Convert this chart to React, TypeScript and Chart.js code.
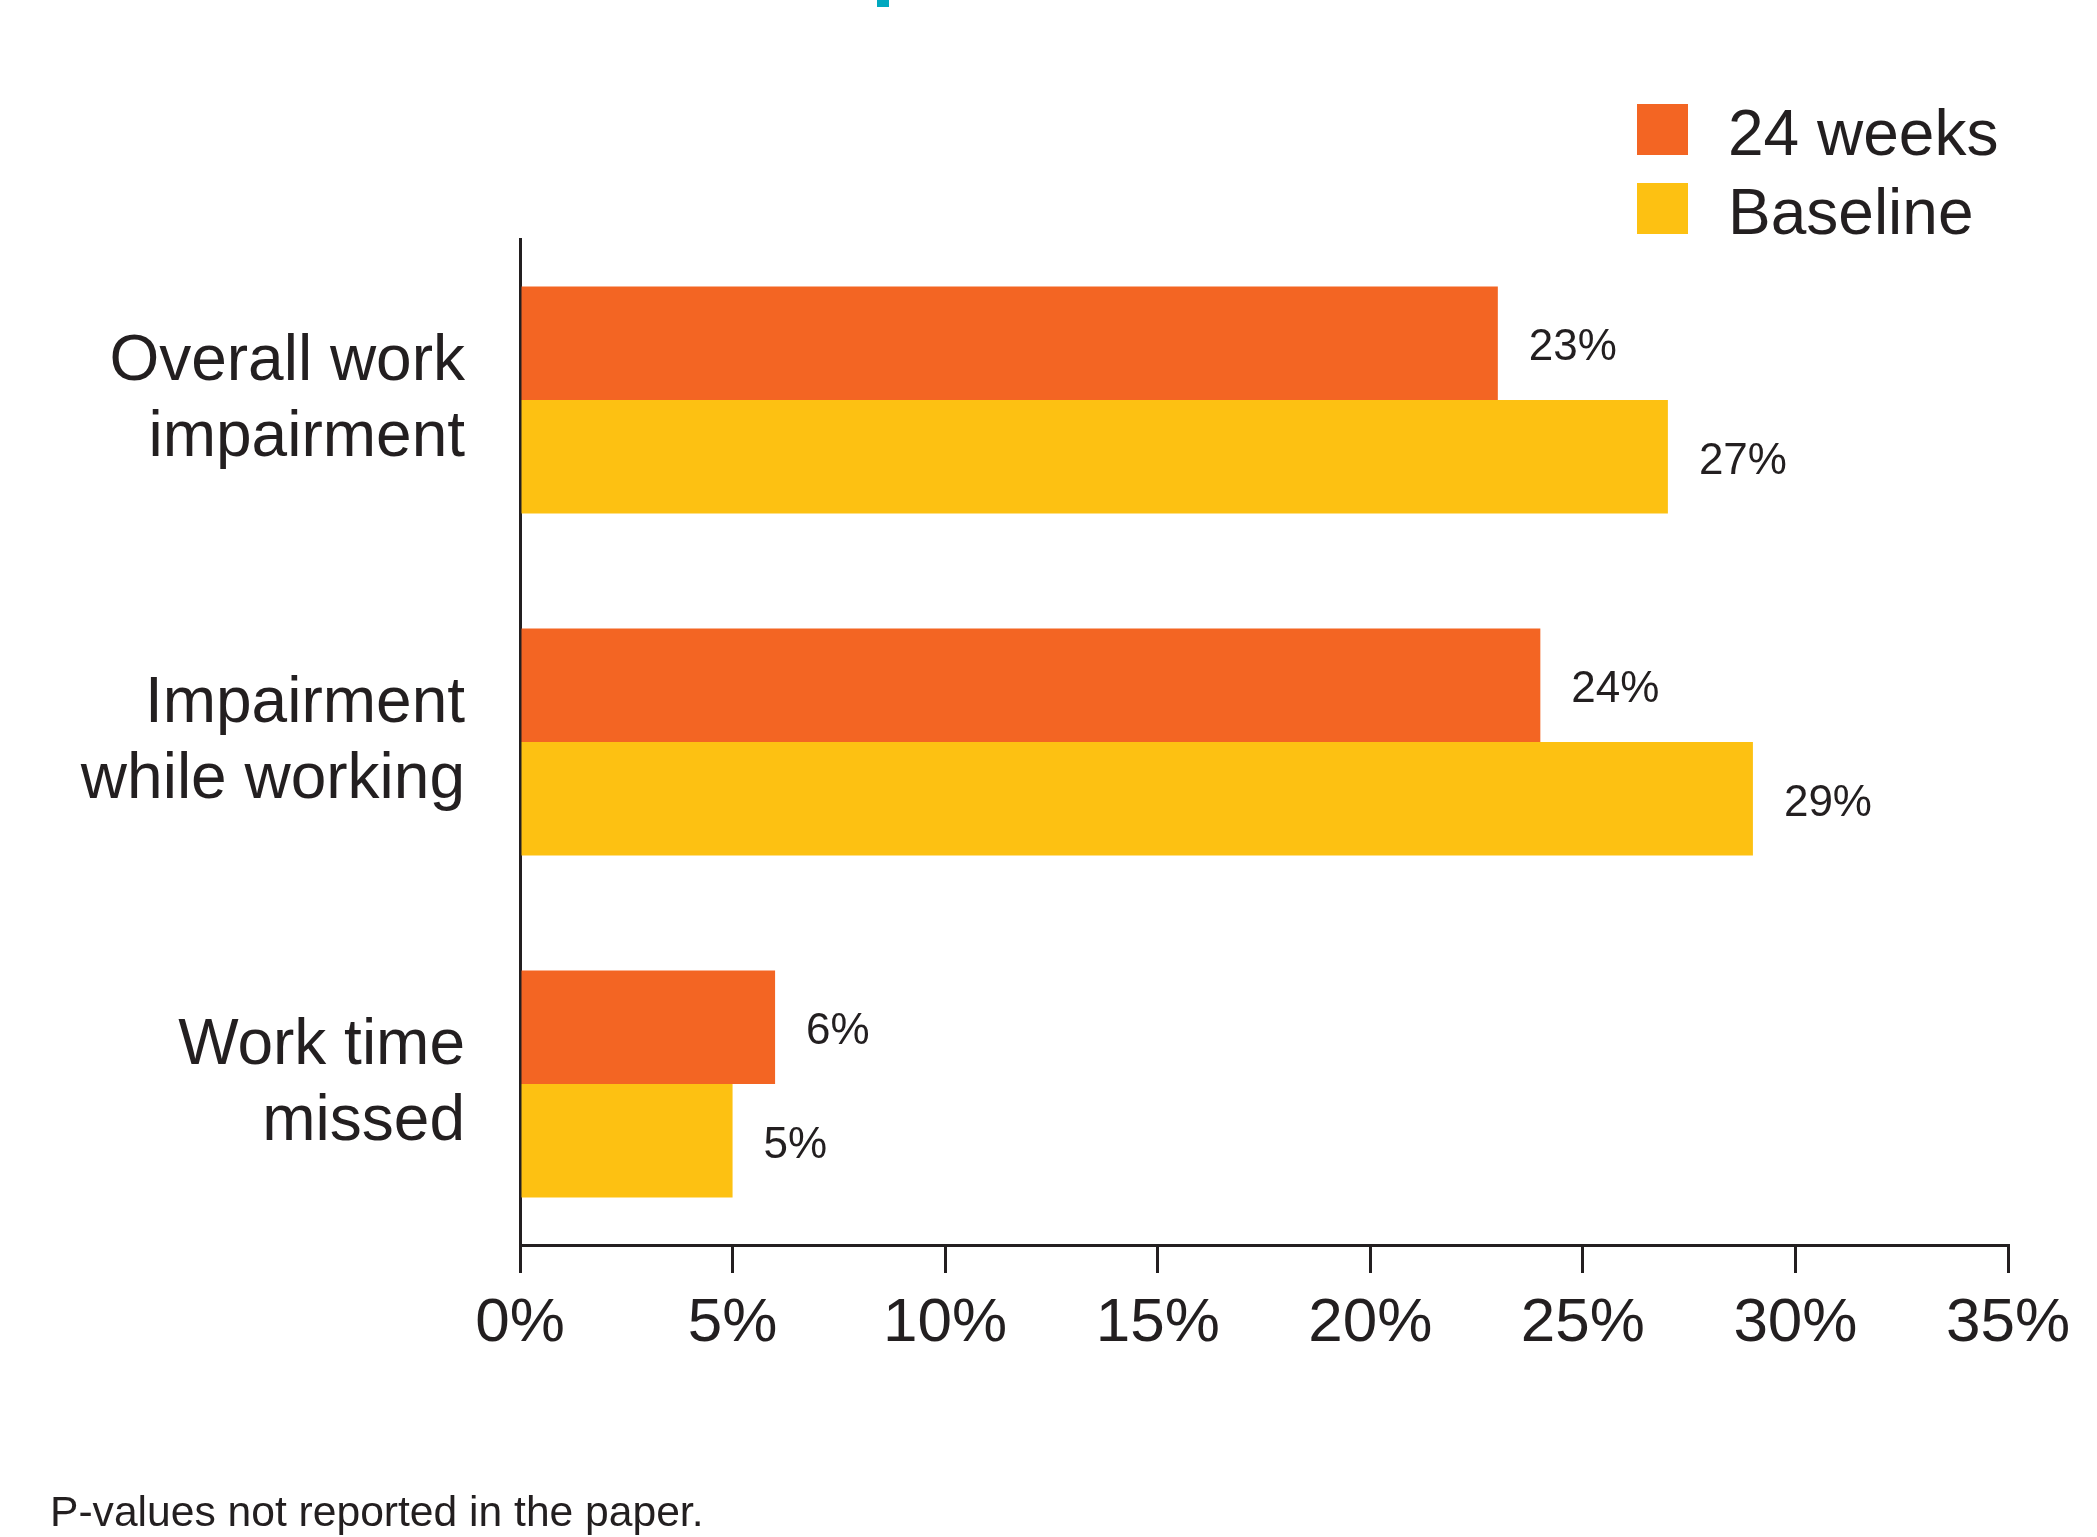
import React, { useEffect, useRef } from "react";
import { Chart, registerables } from "chart.js";

Chart.register(...registerables);

// ---- Data ----
const categories: string[][] = [
  ["Overall work", "impairment"],
  ["Impairment", "while working"],
  ["Work time", "missed"],
];
const seriesLabels = ["24 weeks", "Baseline"];
const weeks24Values = [23, 24, 6];
const baselineValues = [27, 29, 5];
const xTickValues = [0, 5, 10, 15, 20, 25, 30, 35];
const footnote = "P-values not reported in the paper.";

// ---- Style ----
const FONT = "'Liberation Sans', Arial, Helvetica, sans-serif";
const DARK = "#231F20";
const ORANGE = "#F36523";
const YELLOW = "#FDC112";
const TEAL = "#00A8BF";
const W = 2097;
const H = 1537;

const valueLabelPlugin = {
  id: "valueLabels",
  afterDatasetsDraw(chart: any) {
    const ctx = chart.ctx;
    ctx.save();
    ctx.font = `44px ${FONT}`;
    ctx.fillStyle = DARK;
    ctx.textAlign = "left";
    ctx.textBaseline = "middle";
    chart.data.datasets.forEach((ds: any, di: number) => {
      const meta = chart.getDatasetMeta(di);
      meta.data.forEach((el: any, i: number) => {
        const v = ds.data[i].x;
        ctx.fillText(`${v}%`, el.x + 31, el.y + 5);
      });
    });
    ctx.restore();
  },
};

const legendPlugin = {
  id: "customLegend",
  afterDraw(chart: any) {
    const ctx = chart.ctx;
    ctx.save();
    const boxX = 1637;
    const boxSize = 51;
    const firstTop = 104;
    const rowGap = 79;
    ctx.font = `64px ${FONT}`;
    ctx.textAlign = "left";
    ctx.textBaseline = "alphabetic";
    chart.data.datasets.forEach((ds: any, i: number) => {
      const top = firstTop + i * rowGap;
      ctx.fillStyle = ds.backgroundColor;
      ctx.fillRect(boxX, top, boxSize, boxSize);
      ctx.fillStyle = DARK;
      ctx.fillText(ds.label, 1728, top + boxSize);
    });
    ctx.restore();
  },
};

export default function App() {
  const canvasRef = useRef<HTMLCanvasElement | null>(null);

  useEffect(() => {
    if (!canvasRef.current) return;
    const chart = new Chart(canvasRef.current, {
      type: "bar",
      data: {
        datasets: [
          {
            label: seriesLabels[0],
            data: weeks24Values.map((v, i) => ({ x: v, y: i })),
            backgroundColor: ORANGE,
            borderWidth: 0,
          },
          {
            label: seriesLabels[1],
            data: baselineValues.map((v, i) => ({ x: v, y: i })),
            backgroundColor: YELLOW,
            borderWidth: 0,
          },
        ],
      },
      options: {
        indexAxis: "y",
        responsive: false,
        animation: false,
        devicePixelRatio: 1,
        datasets: {
          bar: { categoryPercentage: 0.664, barPercentage: 1.0 },
        },
        layout: { padding: { top: 239, right: 89, left: 0, bottom: 0 } },
        plugins: {
          legend: { display: false },
          title: { display: false },
          tooltip: { enabled: false },
        },
        scales: {
          x: {
            type: "linear",
            min: 0,
            max: 35,
            afterBuildTicks: (scale: any) => {
              scale.ticks = xTickValues.map((v) => ({ value: v }));
            },
            afterFit: (scale: any) => {
              scale.height = H - 1245;
            },
            grid: {
              display: true,
              drawOnChartArea: false,
              drawTicks: true,
              tickLength: 28,
              color: DARK,
              lineWidth: 3,
            },
            border: { display: true, color: DARK, width: 3 },
            ticks: {
              autoSkip: false,
              maxRotation: 0,
              padding: 14,
              color: DARK,
              font: { family: FONT, size: 62 },
              callback: (v: any) => `${v}%`,
            },
          },
          y: {
            type: "linear",
            reverse: true,
            offset: false,
            bounds: "data",
            grace: 0,
            min: -0.4708,
            max: 2.4708,
            afterBuildTicks: (scale: any) => {
              scale.ticks = categories.map((_, i) => ({ value: i }));
            },
            afterFit: (scale: any) => {
              scale.width = 520;
            },
            grid: { display: false, drawTicks: false, offset: false },
            border: { display: true, color: DARK, width: 3 },
            ticks: {
              autoSkip: false,
              padding: 55,
              color: DARK,
              font: { family: FONT, size: 64, lineHeight: 1.1875 },
              callback: (v: any) => categories[v as number],
            },
          },
        },
      },
      plugins: [valueLabelPlugin, legendPlugin],
    } as any);
    return () => chart.destroy();
  }, []);

  return (
    <div
      style={{
        position: "absolute",
        left: 0,
        top: 0,
        width: W,
        height: H,
        overflow: "hidden",
        background: "#ffffff",
      }}
    >
      <div
        style={{
          position: "absolute",
          left: 877,
          top: 0,
          width: 12,
          height: 7,
          background: TEAL,
        }}
      />
      <canvas
        ref={canvasRef}
        width={W}
        height={H}
        style={{ position: "absolute", left: 0, top: 0, width: W, height: H }}
      />
      <div
        style={{
          position: "absolute",
          left: 50,
          top: 1490,
          fontFamily: FONT,
          fontSize: 42.6,
          lineHeight: "42px",
          color: DARK,
          whiteSpace: "nowrap",
        }}
      >
        {footnote}
      </div>
    </div>
  );
}
